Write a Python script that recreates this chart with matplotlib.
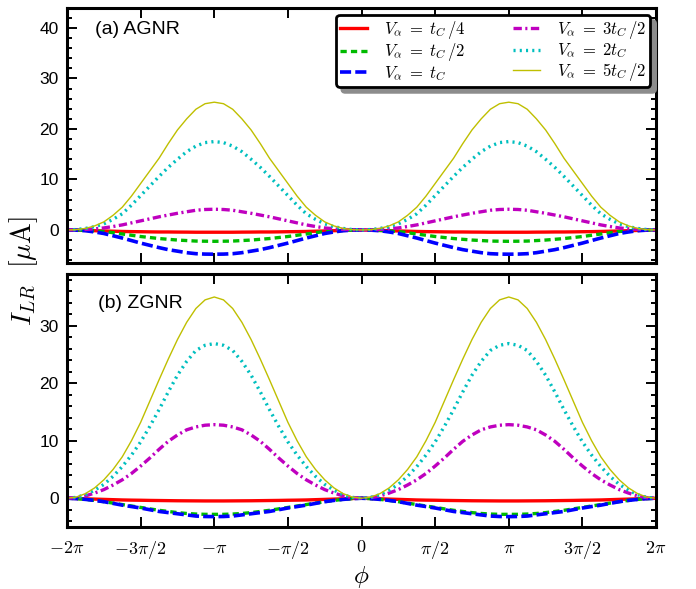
import matplotlib
matplotlib.use('Agg')
import matplotlib.pyplot as plt
import numpy as np
from matplotlib.ticker import MultipleLocator, FixedLocator, FixedFormatter

plt.rcParams['mathtext.fontset'] = 'cm'
plt.rcParams['font.family'] = ['Liberation Sans', 'DejaVu Sans']
plt.rcParams['lines.scale_dashes'] = False

# phase samples: -2pi .. 2pi in steps of pi/16
phi = np.arange(-32, 33) * np.pi / 16

# Values read over one half period (phi from -2pi to -pi, step pi/16);
# the curves in the figure are symmetric about -pi and periodic in 2pi.
# (a) AGNR
red_a = [0, -0.05, -0.1, -0.15, -0.2, -0.25, -0.3, -0.33, -0.35, -0.38, -0.4, -0.4, -0.42, -0.43, -0.45, -0.45, -0.45]
green_a = [0, -0.03, -0.1, -0.18, -0.3, -0.55, -0.8, -1.05, -1.3, -1.5, -1.7, -1.85, -2.0, -2.1, -2.2, -2.23, -2.25]
blue_a = [0, -0.04, -0.15, -0.4, -0.7, -1.15, -1.6, -2.1, -2.6, -3.05, -3.5, -3.9, -4.2, -4.5, -4.7, -4.78, -4.8]
mag_a = [0, 0.03, 0.1, 0.23, 0.4, 0.68, 1.0, 1.4, 1.8, 2.2, 2.6, 2.95, 3.3, 3.6, 3.9, 4.05, 4.1]
cyan_a = [0, 0.08, 0.3, 0.65, 1.2, 2.1, 3.2, 4.9, 6.8, 8.7, 10.6, 12.4, 14.0, 15.5, 16.6, 17.3, 17.5]
yel_a = [0, 0.05, 0.3, 0.8, 1.6, 2.9, 4.5, 6.7, 9.2, 11.7, 14.2, 17.1, 19.8, 22.0, 23.9, 25.0, 25.3]

# (b) ZGNR
red_b = [0, -0.05, -0.1, -0.15, -0.2, -0.25, -0.3, -0.33, -0.35, -0.38, -0.4, -0.42, -0.44, -0.45, -0.46, -0.47, -0.47]
green_b = [0, -0.07, -0.2, -0.38, -0.6, -0.85, -1.1, -1.35, -1.6, -1.85, -2.1, -2.3, -2.5, -2.65, -2.75, -2.8, -2.8]
blue_b = [0, -0.07, -0.2, -0.38, -0.6, -0.9, -1.2, -1.45, -1.7, -2.0, -2.3, -2.5, -2.7, -2.9, -3.1, -3.18, -3.2]
mag_b = [0, 0.1, 0.4, 0.9, 1.5, 2.3, 3.2, 4.3, 5.6, 7.0, 8.5, 9.9, 11.0, 11.9, 12.4, 12.7, 12.8]
cyan_b = [0, 0.15, 0.6, 1.4, 2.4, 3.8, 5.5, 7.5, 9.8, 12.5, 15.4, 18.5, 21.4, 23.8, 25.7, 26.6, 26.9]
yel_b = [0, 0.2, 0.8, 1.8, 3.2, 5.0, 7.2, 10.0, 13.2, 16.9, 20.6, 24.2, 27.6, 30.6, 33.0, 34.5, 35.0]

labels = [r'$V_\alpha\;=\;t_C\,/4$', r'$V_\alpha\;=\;t_C\,/2$', r'$V_\alpha\;=\;t_C$',
          r'$V_\alpha\;=\;3t_C\,/2$', r'$V_\alpha\;=\;2t_C$', r'$V_\alpha\;=\;5t_C\,/2$']
xtick_vals = [-2, -1.5, -1, -0.5, 0, 0.5, 1, 1.5, 2]
xtick_labels = [r'$-2\pi$', r'$-3\pi/2$', r'$-\pi$', r'$-\pi/2$', r'$0$',
                r'$\pi/2$', r'$\pi$', r'$3\pi/2$', r'$2\pi$']


def full_period(half):
    # mirror about -pi, then repeat for the second period
    one = list(half) + list(half[-2::-1])
    return np.array(one + one[1:])


styles = [
    dict(color='#ff0000', lw=2.4, ls='-'),
    dict(color='#00bb00', lw=2.4, ls=(0, (4.5, 3))),
    dict(color='#0000ff', lw=2.6, ls=(0, (8, 3))),
    dict(color='#bf00bf', lw=2.4, ls=(0, (6, 2.5, 1.5, 2.5))),
    dict(color='#00bfbf', lw=2.4, ls=(0, (1.5, 3))),
    dict(color='#bfbf00', lw=1.0, ls='-'),
]

fig = plt.figure(figsize=(6.96, 5.89), dpi=100)
ax1 = fig.add_axes([0.0963, 0.5530, 0.8463, 0.4330])
ax2 = fig.add_axes([0.0963, 0.1053, 0.8463, 0.4295])

series_a = [red_a, green_a, blue_a, mag_a, cyan_a, yel_a]
series_b = [red_b, green_b, blue_b, mag_b, cyan_b, yel_b]

handles = []
for s, st, lab in zip(series_a, styles, labels):
    h, = ax1.plot(phi, full_period(s), label=lab, **st)
    handles.append(h)
for s, st in zip(series_b, styles):
    ax2.plot(phi, full_period(s), **st)

for ax in (ax1, ax2):
    ax.set_xlim(-2 * np.pi, 2 * np.pi)
    ax.xaxis.set_major_locator(FixedLocator([v * np.pi for v in xtick_vals]))
    ax.yaxis.set_major_locator(MultipleLocator(10))
    ax.yaxis.set_minor_locator(MultipleLocator(2))
    ax.tick_params(which='both', direction='in', top=True, right=True, width=1.4)
    ax.tick_params(which='major', length=7)
    ax.tick_params(which='minor', length=3.5)
    ax.tick_params(axis='y', labelsize=12.5, pad=6)
    for sp in ax.spines.values():
        sp.set_linewidth(2.2)

ax1.set_ylim(-6.6, 43.9)
ax2.set_ylim(-5.0, 39.0)
ax1.set_xticklabels([])
ax2.xaxis.set_major_formatter(FixedFormatter(xtick_labels))
ax2.tick_params(axis='x', labelsize=13, pad=9)

ax1.text(0.048, 0.915, '(a) AGNR', transform=ax1.transAxes, fontsize=14, va='center')
ax2.text(0.052, 0.885, '(b) ZGNR', transform=ax2.transAxes, fontsize=14, va='center')

leg = ax1.legend(handles=handles, ncol=2, loc='upper right',
                 bbox_to_anchor=(0.9898, 0.9737), borderaxespad=0,
                 fontsize=12, handlelength=1.6, columnspacing=2.9,
                 labelspacing=0.02, borderpad=0.25, handletextpad=1.0,
                 fancybox=True, framealpha=1,
                 shadow={'ox': 4, 'oy': -4, 'facecolor': '0.55', 'edgecolor': '0.55', 'alpha': 1})
leg.get_frame().set_edgecolor('black')
leg.get_frame().set_linewidth(2)

fig.text(0.034, 0.54, r'$I_{LR}\ \ [\mu\mathrm{A}]$', rotation=90, fontsize=20,
         ha='center', va='center')
fig.text(0.519, 0.02, r'$\phi$', fontsize=18, ha='center', va='center')

fig.savefig('out.png', dpi=100)
